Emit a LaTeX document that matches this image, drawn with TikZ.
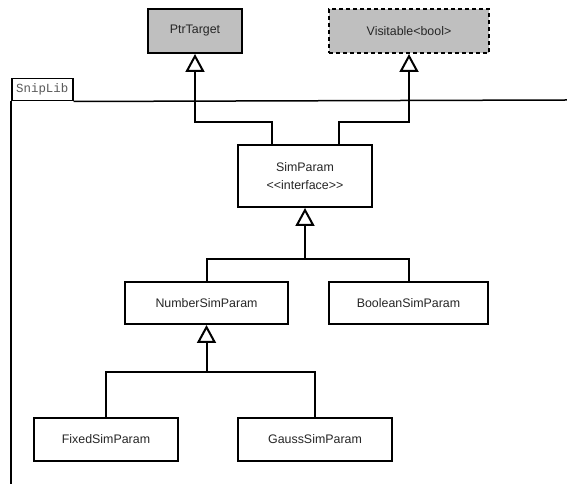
\documentclass[tikz,border=0pt]{standalone}
\usepackage{fontspec}
\setmainfont{Liberation Sans}[Ligatures=TeXOff]
\newfontfamily\pkgfont{Liberation Mono}
\usetikzlibrary{arrows.meta}
\begin{document}
\begin{tikzpicture}[x=1pt,y=1pt,
  cls/.style={draw=black, line width=2pt, fill=white, inner sep=0pt,
    font=\fontsize{12.4}{17}\selectfont, text=black!85, align=center},
  parentcls/.style={cls, fill=black!25},
  ifacecls/.style={cls, fill=black!25, dash pattern=on 4pt off 3pt},
  inh/.style={line width=2pt, -{Triangle[open, length=18pt, width=19pt, line width=2pt]}},
  conn/.style={line width=2pt},
  pkg/.style={line width=1.5pt}
]
\useasboundingbox (0,0) rectangle (567,484);

% package frame
\node[draw=black, pkg, fill=white, minimum width=61pt, minimum height=22pt, inner sep=0pt, anchor=north west,
  font=\pkgfont\fontsize{12.4}{14}\selectfont, text=black!65] (tab) at (11,406) {SnipLib};
\coordinate (pkgright) at (567,384);
\coordinate (pkgbottom) at (11,0);
\draw[pkg] (tab.south east) -- (pkgright);
\draw[pkg] (tab.south west) -- (pkgbottom);

% classes
\node[parentcls, minimum width=94pt, minimum height=44pt] (ptr) at (195,453) {PtrTarget};
\node[ifacecls, minimum width=160pt, minimum height=44pt] (vis) at (409,453) {Visitable<bool>};
\node[cls, minimum width=134pt, minimum height=62pt] (sim) at (305,308) {SimParam\\[1pt]<\kern0pt<interface>\kern0pt>};
\node[cls, minimum width=163pt, minimum height=42pt] (num) at (206.5,181) {NumberSimParam};
\node[cls, minimum width=159pt, minimum height=42pt] (bool) at (408.5,181) {BooleanSimParam};
\node[cls, minimum width=144pt, minimum height=43pt] (fixed) at (106,44.5) {FixedSimParam};
\node[cls, minimum width=154pt, minimum height=43pt] (gauss) at (315,44.5) {GaussSimParam};

% generalisations
\draw[inh] ([xshift=-33pt]sim.north) -- ++(0,22) -| (ptr.south);
\draw[inh] ([xshift=34pt]sim.north) -- ++(0,22) -| (vis.south);

\coordinate (j1) at (305,225);
\draw[conn] (num.north) |- (j1) -| (bool.north);
\draw[inh] (j1) -- (sim.south);

\coordinate (j2) at (206.5,112);
\draw[conn] (fixed.north) |- (j2) -| (gauss.north);
\draw[inh] (j2) -- (num.south);
\end{tikzpicture}
\end{document}
